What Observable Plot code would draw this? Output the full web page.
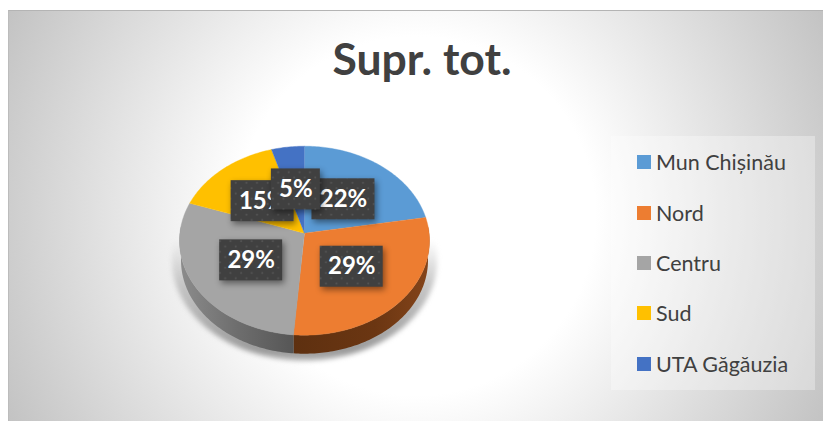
<!DOCTYPE html>
<html>
<head>
<meta charset="utf-8">
<script src="https://cdn.jsdelivr.net/npm/d3@7"></script>
<script src="https://cdn.jsdelivr.net/npm/@observablehq/plot@0.6"></script>
<style>
  html, body { margin: 0; padding: 0; background: #fff; width: 823px; height: 421px; overflow: hidden; }
  #panel { position: absolute; left: 8px; top: 10px; width: 815px; height: 411px; box-sizing: border-box;
    border-top: 1px solid #b4b4b4; border-left: 1px solid #bcbcbc;
    background: radial-gradient(circle 460px at 50% 50%, #ffffff 0%, #ffffff 39%, #c2c2c2 100%); }
  #chart { position: absolute; left: 0; top: 0; }
  #legend { position: absolute; left: 611px; top: 136px; width: 204px; height: 254px;
    background: rgba(255,255,255,.32); font-family: Lato, sans-serif; font-size: 21.5px; color: #404040; }
  #legend div { position: absolute; left: 46px; line-height: 24px; white-space: nowrap; }
  #legend span { margin-left: -1px; }
  #legend i { position: absolute; left: -20px; top: 5px; width: 14px; height: 14px; }
</style>
</head>
<body>
<div id="panel"></div>
<div id="chart"></div>
<div id="legend"></div>
<script>
const titleText = "Supr. tot.";
const categories = ["Mun Chișinău", "Nord", "Centru", "Sud", "UTA Găgăuzia"];
const shares = [22.3, 29.0, 29.0, 15.1, 4.6];
const colors = ["#5b9bd5", "#ed7d31", "#a5a5a5", "#ffc000", "#4472c4"];
const sideFills = ["none", "url(#sideOrange)", "url(#sideGray)", "none", "none"];

// pie layout from the values (clockwise from 12 o'clock, in data order)
const total = d3.sum(shares);
const arcs = d3.pie().sort(null).value(d => d)(shares);
const deg = Math.PI / 180;
// perspective of the tilted disc
const tilt = 0.0794, depth = 0.21;
const rim = (a, f = 1, drop = 0, grow = 1) => {
  const u = f * Math.sin(a), v = -f * Math.cos(a), den = 1 - tilt * v;
  return {x: grow * u / den, y: grow * v / den + drop};
};
const sweep = (a0, a1) => {
  const n = Math.max(2, Math.ceil((a1 - a0) / deg));
  return d3.range(n + 1).map(i => a0 + (a1 - a0) * i / n);
};
const topFace = arcs.map(s => [rim(0, 0), ...sweep(s.startAngle, s.endAngle).map(a => rim(a))]);
const visible0 = 86 * deg, visible1 = 274 * deg;
const sideFace = arcs.map(s => {
  const a0 = Math.max(s.startAngle, visible0), a1 = Math.min(s.endAngle, visible1);
  if (a1 <= a0) return [];
  const as = sweep(a0, a1);
  return [...as.map(a => rim(a)), ...as.slice().reverse().map(a => rim(a, 1, depth, 0.988))];
});
const shadowShape = sweep(0, 2 * Math.PI).map(a => rim(a, 1, 0.205, 1.06));

const cx = 304, cy = 232.7, R = 124.6, S = 93.9;
const labels = arcs.map((s, i) => {
  const text = d3.format(".0%")(shares[i] / total);
  const p = rim((s.startAngle + s.endAngle) / 2, 0.5);
  const hw = (21 + 14 * text.length) / 2 / R, hh = 20.5 / S;
  return {text, x: p.x, y: p.y + 0.01, x1: p.x - hw, x2: p.x + hw, y1: p.y + 0.01 - hh, y2: p.y + 0.01 + hh};
});
const order = [0, 1, 2, 3, 4];

const defs = () => {
  const d = d3.create("svg:defs");
  const grad = (id, x2, y2, stops) => {
    const g = d.append("linearGradient").attr("id", id).attr("x1", 0).attr("y1", 0).attr("x2", x2).attr("y2", y2);
    stops.forEach(([o, c, op]) => g.append("stop").attr("offset", o).attr("stop-color", c).attr("stop-opacity", op ?? 1));
  };
  grad("sideOrange", 1, 0, [[0, "#5e3010"], [0.6, "#6b3612"], [1, "#84441a"]]);
  grad("sideGray", 1, 0, [[0, "#8c8c8c"], [0.5, "#6e6e6e"], [1, "#565656"]]);
  grad("shadowFade", 0, 1, [[0, "#bdbdbd", 0], [0.4, "#bdbdbd", 0], [0.62, "#bdbdbd", 0.85], [0.95, "#9a9a9a", 1], [1, "#b0b0b0", 1]]);
  const p = d.append("pattern").attr("id", "dots").attr("width", 10.6).attr("height", 10.6).attr("patternUnits", "userSpaceOnUse");
  p.append("rect").attr("width", 10.6).attr("height", 10.6).attr("fill", "#404040");
  [[2.6, 2.6], [7.9, 7.9]].forEach(([x, y]) => p.append("circle").attr("cx", x).attr("cy", y).attr("r", 1).attr("fill", "#565656"));
  return d.node();
};

const line = (pts, fill, extra = {}) => Plot.line(pts, {x: "x", y: "y", fill, stroke: "none", ...extra});

const chart = Plot.plot({
  width: 823, height: 421, margin: 0,
  style: {background: "transparent"},
  x: {domain: [-1, 1], range: [cx - R, cx + R], axis: null},
  y: {domain: [-1, 1], range: [cy - S, cy + S], axis: null},
  marks: [
    defs,
    line(shadowShape, "url(#shadowFade)", {imageFilter: "blur(2.5px)"}),
    ...sideFace.map((pts, i) => pts.length ? line(pts, sideFills[i]) : null),
    ...topFace.map((pts, i) => line(pts, colors[i], {stroke: colors[i], strokeWidth: 0.4})),
    ...order.flatMap(i => [
      Plot.rect([labels[i]], {x1: "x1", x2: "x2", y1: "y1", y2: "y2", fill: "url(#dots)",
        imageFilter: "drop-shadow(2px 3px 3px rgba(0,0,0,.45))"}),
      Plot.text([labels[i]], {x: "x", y: "y", text: "text", fill: "white", fontSize: 24, fontWeight: 700, fontFamily: "Lato, sans-serif"})
    ]),
    Plot.text([titleText], {text: d => d, frameAnchor: "top", dx: 10, dy: 43, fontSize: 44.5, fontWeight: 700,
      fontFamily: "Lato, sans-serif", fill: "#404040"})
  ]
});
document.getElementById("chart").append(chart);

const legendTops = [14, 65, 115, 165, 216];
const legend = d3.select("#legend");
categories.forEach((name, i) => {
  const row = legend.append("div").style("top", legendTops[i] + "px");
  row.append("i").style("background", colors[i]);
  row.append("span").text(name);
});
</script>
</body>
</html>
